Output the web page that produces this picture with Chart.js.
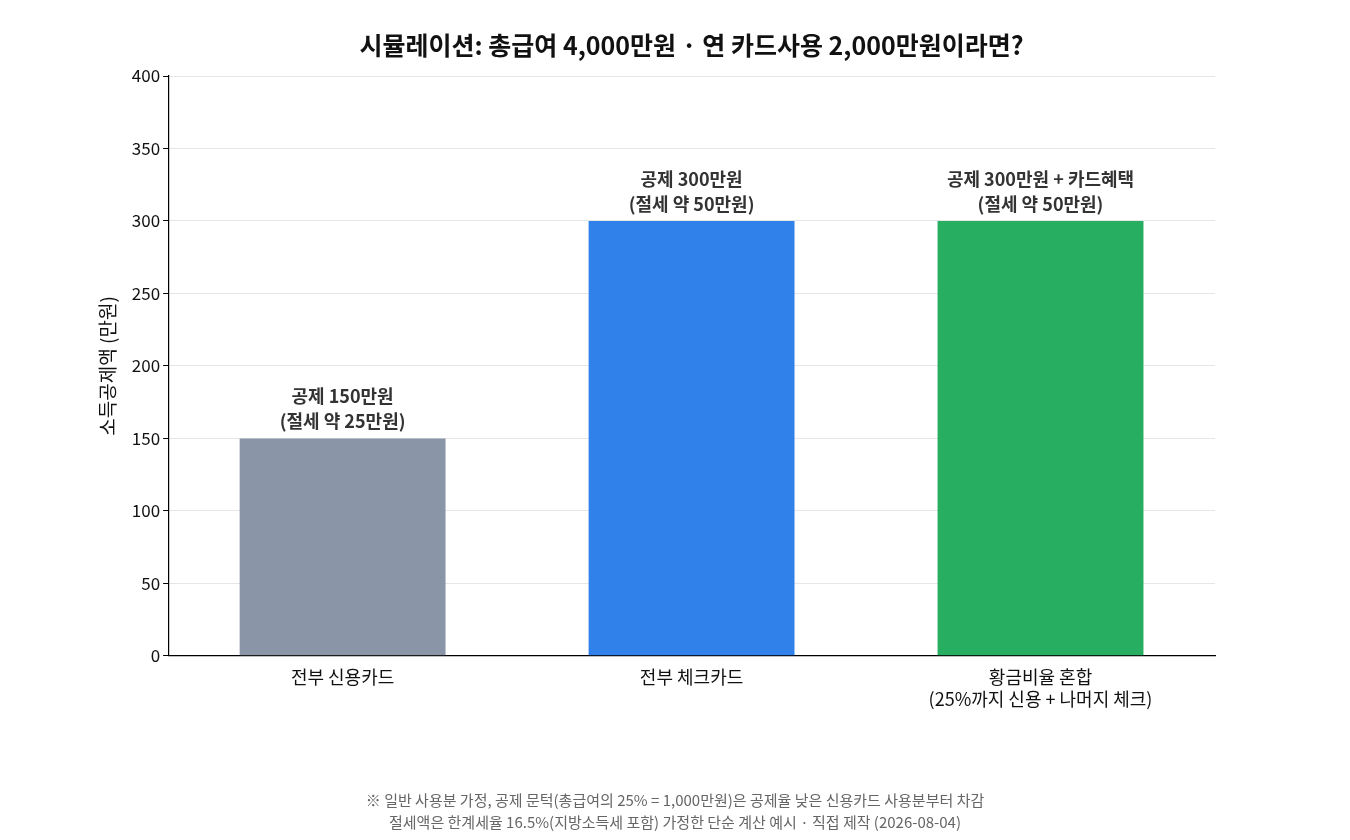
<!DOCTYPE html>
<html>
<head>
<meta charset="utf-8">
<script src="https://cdn.jsdelivr.net/npm/chart.js@4"></script>
<style>
  html, body { margin: 0; padding: 0; background: #fff; }
  #wrap { width: 1350px; height: 840px; }
</style>
</head>
<body>
<div id="wrap"><canvas id="c" width="1350" height="840"></canvas></div>
<script>
  const FONT = '"Noto Sans CJK KR", "Noto Sans", sans-serif';

  const titleText = '시뮬레이션: 총급여 4,000만원 · 연 카드사용 2,000만원이라면?';
  const categories = [['전부 신용카드'], ['전부 체크카드'], ['황금비율 혼합', '(25%까지 신용 + 나머지 체크)']];
  const deduction = [150, 300, 300];
  const barLabels = [
    ['공제 150만원', '(절세 약 25만원)'],
    ['공제 300만원', '(절세 약 50만원)'],
    ['공제 300만원 + 카드혜택', '(절세 약 50만원)']
  ];
  const barColors = ['#8A96A8', '#3081EA', '#27AE60'];
  const footNotes = [
    '※ 일반 사용분 가정, 공제 문턱(총급여의 25% = 1,000만원)은 공제율 낮은 신용카드 사용분부터 차감',
    '절세액은 한계세율 16.5%(지방소득세 포함) 가정한 단순 계산 예시 · 직접 제작 (2026-08-04)'
  ];

  // title, labels above bars + footer
  const extras = {
    id: 'extras',
    afterDatasetsDraw(chart) {
      const ctx = chart.ctx;
      const meta = chart.getDatasetMeta(0);
      const area = chart.chartArea;
      ctx.save();
      ctx.textAlign = 'center';
      ctx.fillStyle = '#111';
      ctx.font = 'bold 25px ' + FONT;
      ctx.textBaseline = 'middle';
      ctx.fillText(titleText, (area.left + area.right) / 2, 45);
      ctx.fillStyle = '#333';
      ctx.font = 'bold 18px ' + FONT;
      ctx.textBaseline = 'bottom';
      meta.data.forEach((bar, i) => {
        ctx.fillText(barLabels[i][0], bar.x, bar.y - 33);
        ctx.fillText(barLabels[i][1], bar.x, bar.y - 8);
      });
      ctx.fillStyle = '#666';
      ctx.font = '15px ' + FONT;
      ctx.textBaseline = 'middle';
      ctx.fillText(footNotes[0], 675, 800);
      ctx.fillText(footNotes[1], 675, 822);
      ctx.restore();
    }
  };

  new Chart(document.getElementById('c'), {
    type: 'bar',
    data: {
      labels: categories,
      datasets: [{
        data: deduction,
        backgroundColor: barColors,
        barPercentage: 0.59,
        categoryPercentage: 1
      }]
    },
    options: {
      responsive: false,
      animation: false,
      layout: { padding: { left: 92, right: 135, top: 76, bottom: 127 } },
      plugins: {
        legend: { display: false },
        tooltip: { enabled: false },
        title: { display: false }
      },
      scales: {
        x: {
          grid: { display: false },
          border: { color: '#000', width: 1.2 },
          ticks: { font: { family: FONT, size: 18 }, color: '#111' }
        },
        y: {
          min: 0, max: 400,
          ticks: { stepSize: 50, font: { family: FONT, size: 17 }, color: '#111' },
          grid: { color: '#e6e6e6', drawTicks: true, tickColor: '#000', tickLength: 5 },
          border: { color: '#000', width: 1.2 },
          title: {
            display: true,
            text: '소득공제액 (만원)',
            font: { family: FONT, size: 19 },
            color: '#111',
            padding: { bottom: 10 }
          }
        }
      }
    },
    plugins: [extras]
  });
</script>
</body>
</html>
